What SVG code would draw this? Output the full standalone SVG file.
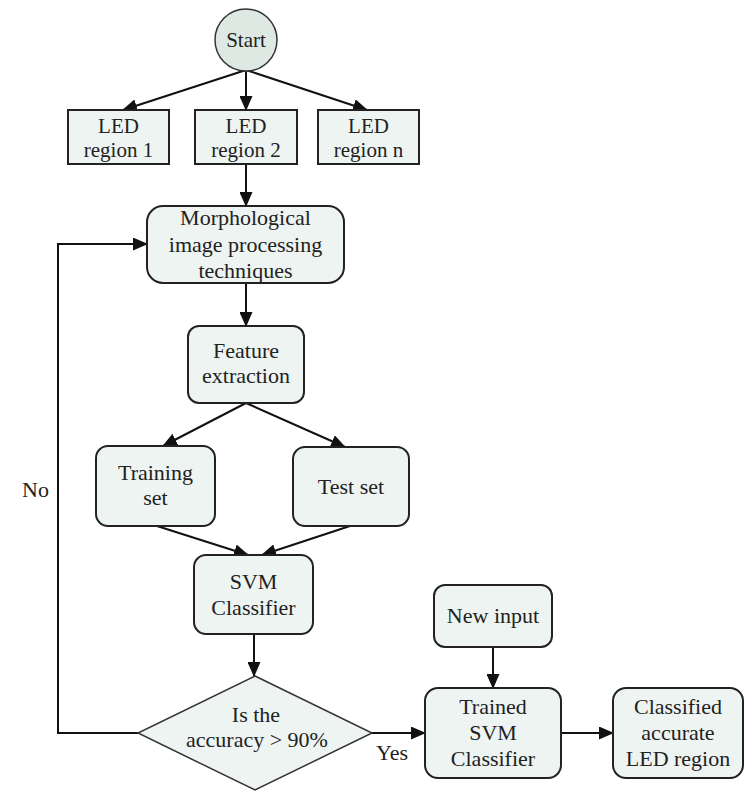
<svg xmlns="http://www.w3.org/2000/svg" width="745" height="791" viewBox="0 0 745 791" font-family="Liberation Serif, Times New Roman, DejaVu Serif, serif">
<style>
.box{fill:#eef4f2;stroke:#222;stroke-width:2}
.start{fill:#dde9e2;stroke:#333;stroke-width:1.5}
.dia{fill:#eef4f2;stroke:#333;stroke-width:1.5}
text{font-family:'Liberation Serif','Times New Roman','DejaVu Serif',serif;font-size:22px;fill:#222;text-anchor:middle}
.lbl{text-anchor:start}
.c{fill:none;stroke:#111;stroke-width:2}
</style>
<defs>
<marker id="ah" markerUnits="userSpaceOnUse" markerWidth="15" markerHeight="13" refX="14" refY="6.5" orient="auto">
<path d="M0,0 L15,6.5 L0,13 Z" fill="#111"/>
</marker>
</defs>
<g id="connectors">
<line class="c" x1="246" y1="70" x2="123" y2="110" marker-end="url(#ah)"/>
<line class="c" x1="246" y1="70" x2="246" y2="110" marker-end="url(#ah)"/>
<line class="c" x1="246" y1="70" x2="367" y2="110" marker-end="url(#ah)"/>
<line class="c" x1="246" y1="164" x2="246" y2="206" marker-end="url(#ah)"/>
<line class="c" x1="246" y1="283" x2="246" y2="326" marker-end="url(#ah)"/>
<line class="c" x1="246" y1="403" x2="163" y2="446" marker-end="url(#ah)"/>
<line class="c" x1="246" y1="403" x2="345" y2="447" marker-end="url(#ah)"/>
<line class="c" x1="157" y1="526" x2="248" y2="555" marker-end="url(#ah)"/>
<line class="c" x1="350" y1="526" x2="262" y2="555" marker-end="url(#ah)"/>
<line class="c" x1="254" y1="634" x2="254" y2="676" marker-end="url(#ah)"/>
<polyline class="c" points="138,733 58,733 58,244 147,244" marker-end="url(#ah)"/>
<line class="c" x1="372" y1="733" x2="425" y2="733" marker-end="url(#ah)"/>
<line class="c" x1="493" y1="647" x2="493" y2="688" marker-end="url(#ah)"/>
<line class="c" x1="561" y1="733" x2="613" y2="733" marker-end="url(#ah)"/>
<text class="lbl" x="22" y="497">No</text>
<text class="lbl" x="376" y="760">Yes</text>
</g>
<g id="start">
<circle class="start" cx="246" cy="40" r="31"/>
<text x="246" y="47" style="font-size:21px">Start</text>
</g>
<g id="led1">
<rect class="box" x="68" y="110" width="101" height="54"/>
<text x="118.5" y="133" style="font-size:21px">LED</text>
<text x="118.5" y="157" style="font-size:21px">region 1</text>
</g>
<g id="led2">
<rect class="box" x="195" y="110" width="102" height="54"/>
<text x="246" y="133" style="font-size:21px">LED</text>
<text x="246" y="157" style="font-size:21px">region 2</text>
</g>
<g id="ledn">
<rect class="box" x="318" y="110" width="101" height="54"/>
<text x="368.5" y="133" style="font-size:21px">LED</text>
<text x="368.5" y="157" style="font-size:21px">region n</text>
</g>
<g id="morph">
<rect class="box" x="147" y="206" width="197" height="77" rx="16"/>
<text x="245.5" y="225">Morphological</text>
<text x="245.5" y="252">image processing</text>
<text x="245.5" y="278">techniques</text>
</g>
<g id="feature">
<rect class="box" x="188" y="326" width="116" height="77" rx="11"/>
<text x="246" y="358">Feature</text>
<text x="246" y="383">extraction</text>
</g>
<g id="training">
<rect class="box" x="96" y="446" width="119" height="80" rx="12"/>
<text x="155.5" y="480">Training</text>
<text x="155.5" y="505">set</text>
</g>
<g id="test">
<rect class="box" x="293" y="447" width="116" height="79" rx="12"/>
<text x="351" y="494">Test set</text>
</g>
<g id="svm">
<rect class="box" x="194" y="555" width="119" height="79" rx="12"/>
<text x="253.5" y="589">SVM</text>
<text x="253.5" y="615">Classifier</text>
</g>
<g id="decision">
<polygon class="dia" points="255,676 372,733 255,790 138,733"/>
<text x="256" y="722">Is the</text>
<text x="257" y="747">accuracy &gt; 90%</text>
</g>
<g id="newinput">
<rect class="box" x="434" y="585" width="118" height="62" rx="11"/>
<text x="493" y="623">New input</text>
</g>
<g id="trained">
<rect class="box" x="425" y="688" width="136" height="90" rx="13"/>
<text x="493" y="714">Trained</text>
<text x="493" y="740">SVM</text>
<text x="493" y="766">Classifier</text>
</g>
<g id="classified">
<rect class="box" x="613" y="688" width="130" height="90" rx="13"/>
<text x="678" y="714">Classified</text>
<text x="678" y="740">accurate</text>
<text x="678" y="766">LED region</text>
</g>
</svg>
